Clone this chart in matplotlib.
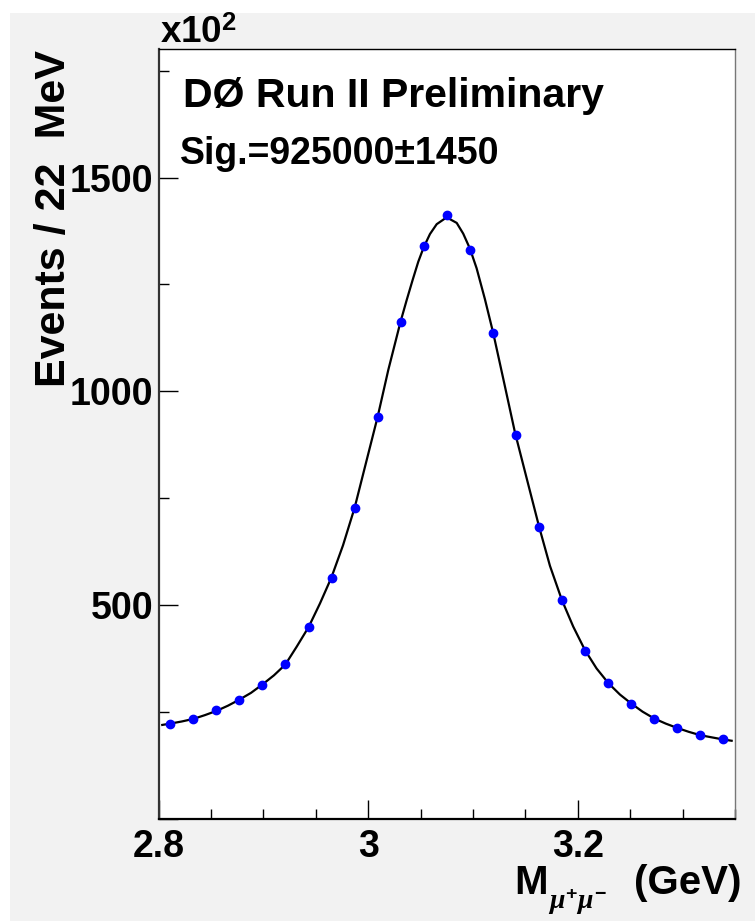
import numpy as np
import matplotlib.pyplot as plt
from matplotlib.patches import Rectangle
from matplotlib.ticker import MultipleLocator, FuncFormatter

plt.rcParams['font.family'] = ['Liberation Sans', 'DejaVu Sans']
plt.rcParams['font.weight'] = 'bold'
plt.rcParams['mathtext.fontset'] = 'custom'
plt.rcParams['mathtext.rm'] = 'Liberation Sans:bold'
plt.rcParams['mathtext.bf'] = 'Liberation Sans:bold'
plt.rcParams['mathtext.it'] = 'Liberation Serif:italic'

#Datenpunkte (Einheit x10^2 Ereignisse pro 22 MeV)
mass = [2.811, 2.833, 2.855, 2.877, 2.899, 2.921, 2.943, 2.965, 2.987, 3.009,
        3.031, 3.053, 3.075, 3.097, 3.119, 3.141, 3.163, 3.185, 3.207, 3.229,
        3.251, 3.273, 3.295, 3.317, 3.339]
events = [221, 234, 254, 278, 314, 362, 449, 564, 728, 941,
          1162, 1341, 1412, 1330, 1136, 899, 682, 512, 394, 317,
          270, 235, 213, 196, 186]

#Fitkurve
fit_mass = [2.8034, 2.8108, 2.8219, 2.8330, 2.8442, 2.8553, 2.8661, 2.8769, 2.8881, 2.8992,
            2.9100, 2.9208, 2.9317, 2.9431, 2.9539, 2.9647, 2.9759, 2.9870, 2.9968, 3.0090,
            3.0191, 3.0307, 3.0366, 3.0424, 3.0477, 3.0529, 3.0589, 3.0653, 3.0748, 3.0844,
            3.0906, 3.0970, 3.1034, 3.1113, 3.1193, 3.1288, 3.1400, 3.1521, 3.1632, 3.1734,
            3.1848, 3.1956, 3.2068, 3.2179, 3.2294, 3.2402, 3.2510, 3.2618, 3.2729, 3.2840,
            3.2948, 3.3057, 3.3168, 3.3277, 3.3387, 3.3468]
fit_events = [220, 223, 228, 234, 243, 253, 265, 279, 295, 315,
              336, 361, 403, 449, 504, 564, 640, 728, 823, 941,
              1050, 1162, 1213, 1261, 1303, 1337, 1368, 1391, 1407, 1394,
              1369, 1334, 1288, 1216, 1136, 1030, 904, 788, 682, 592,
              512, 450, 395, 352, 317, 291, 270, 251, 235, 223,
              213, 204, 196, 191, 186, 183]

W, H = 755, 921
fig = plt.figure(figsize=(W / 100, H / 100), dpi=100, facecolor='white')
fig.add_artist(Rectangle((10 / W, 0), 1, (H - 13) / H, transform=fig.transFigure,
                         facecolor='#f2f2f2', edgecolor='none', zorder=-10))

ax = fig.add_axes([158.7 / W, (H - 819) / H, (735 - 158.7) / W, (819 - 49.3) / H])
ax.set_facecolor('white')

ax.plot(fit_mass, fit_events, color='black', lw=1.6, zorder=2)
ax.plot(mass, events, 'o', color='blue', mec='blue', ms=6, zorder=3)

ax.set_xlim(2.8, 3.35)
ax.set_ylim(0, 1800)

ax.xaxis.set_major_locator(MultipleLocator(0.2))
ax.xaxis.set_minor_locator(MultipleLocator(0.05))
ax.yaxis.set_major_locator(MultipleLocator(500))
ax.yaxis.set_minor_locator(MultipleLocator(250))
ax.xaxis.set_major_formatter(FuncFormatter(lambda v, p: '%g' % round(v, 3)))
ax.yaxis.set_major_formatter(FuncFormatter(lambda v, p: '' if v < 1 else '%d' % v))

ax.tick_params(which='both', direction='in', top=False, right=False, width=1, labelsize=27)
ax.tick_params(which='major', length=14)
ax.tick_params(which='minor', length=7)
ax.tick_params(axis='x', pad=7)
ax.tick_params(axis='y', pad=4)

ax.spines['left'].set_linewidth(1.6)
ax.spines['left'].set_color('#333333')
ax.spines['bottom'].set_linewidth(1.6)
ax.spines['top'].set_linewidth(1.0)
ax.spines['right'].set_linewidth(1.0)
ax.spines['right'].set_color('#777777')

#Beschriftungen
fig.text(160 / W, (H - 43) / H, r'x10$^{2}$', fontsize=26.5, va='baseline')
fig.text(183 / W, (H - 107) / H, 'DØ Run II Preliminary', fontsize=29.5, va='baseline')
fig.text(180 / W, (H - 164) / H, 'Sig.=925000±1450', fontsize=27, va='baseline')
fig.text(54 / W, (H - 50) / H, 'Events / 22  MeV', rotation=90, ha='center', va='top', fontsize=31)

#x-Achsenbeschriftung aus drei Teilen (M, Index, Einheit)
fig.text(514 / W, (H - 894) / H, 'M', ha='left', va='baseline', fontsize=29)
fig.text(548 / W, (H - 909) / H, r'$\mu^{+}\mu^{-}$', ha='left', va='baseline', fontsize=20)
fig.text(741 / W, (H - 894) / H, '(GeV)', ha='right', va='baseline', fontsize=29)

fig.savefig('out.png', dpi=100)
